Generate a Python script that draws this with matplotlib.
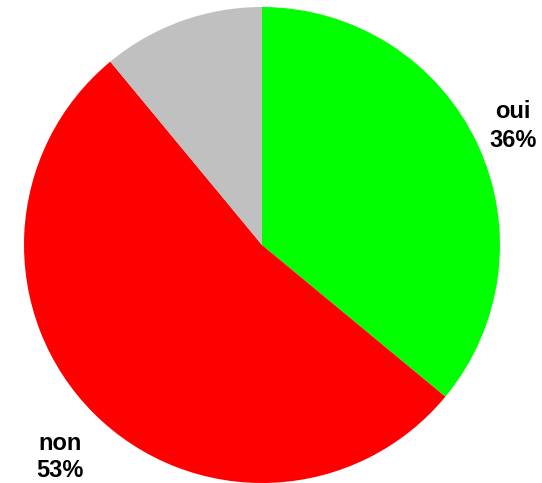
import matplotlib
matplotlib.use("Agg")
import matplotlib.pyplot as plt

categories = ["oui", "non", "autre"]
values = [36, 53, 11]
colors = ["#00FF00", "#FF0000", "#C0C0C0"]
pct_texts = ["36%", "53%", None]

W, H = 542, 483
fig = plt.figure(figsize=(W / 100, H / 100), dpi=100)
cx, cy, r = 262, 245, 238
ax = fig.add_axes([(cx - r) / W, (H - cy - r) / H, 2 * r / W, 2 * r / H])
ax.pie(values, colors=colors, startangle=90, counterclock=False,
       wedgeprops=dict(linewidth=0), radius=1)
ax.set_xlim(-1, 1)
ax.set_ylim(-1, 1)
ax.set_aspect("equal")
ax.axis("off")

# label placement in pixel coords: (center x, baseline of first line, baseline of second line)
label_px = [(513, 118, 147), (60, 450, 477), None]
for cat, pct, pos in zip(categories, pct_texts, label_px):
    if pct is None:
        continue
    x = (pos[0] - cx) / r
    for txt, yb in ((cat, pos[1]), (pct, pos[2])):
        ax.text(x, (cy - yb) / r, txt, ha="center", va="baseline", fontsize=17,
                fontweight="bold", family="Liberation Sans", clip_on=False)

fig.savefig("out.png", dpi=100)
